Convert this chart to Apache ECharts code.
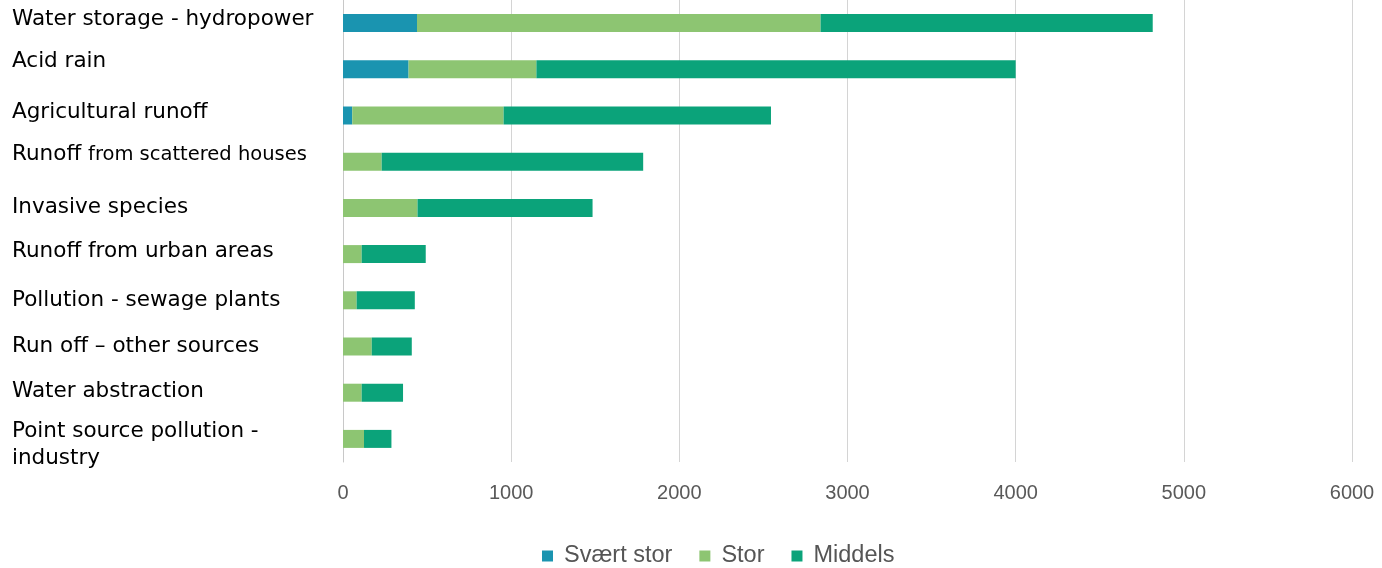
<!DOCTYPE html>
<html>
<head>
<meta charset="utf-8">
<script src="https://cdn.jsdelivr.net/npm/echarts@6/dist/echarts.min.js"></script>
<style>
html,body{margin:0;padding:0;background:#fff;}
#chart{width:1382px;height:568px;}
</style>
</head>
<body>
<div id="chart"></div>
<script>
const categories = [
  'Water storage - hydropower',
  'Acid rain',
  'Agricultural runoff',
  'Runoff from scattered houses',
  'Invasive species',
  'Runoff from urban areas',
  'Pollution - sewage plants',
  'Run off \u2013 other sources',
  'Water abstraction',
  'Point source pollution -\nindustry'
];
const seriesNames = ['Svært stor', 'Stor', 'Middels'];
const svaertStor = [440, 390, 55, 0, 0, 0, 0, 0, 0, 0];
const stor       = [2400, 760, 900, 230, 443, 111, 81, 171, 111, 125];
const middels    = [1975, 2850, 1590, 1555, 1041, 381, 346, 238, 246, 163];
const xTicks = [0, 1000, 2000, 3000, 4000, 5000, 6000];

// vertical nudge of each category label (px, negative = up) – styling only
const labelShift = [-4, -8, -3, -7, 0, -3, 0, 0, -1, 6];

const colors = ['#1a94b0', '#8dc572', '#0ba37a'];

const yData = categories.map((c, i) => {
  const d = labelShift[i];
  const pad = d < 0 ? [0, 0, -2 * d, 0] : [2 * d, 0, 0, 0];
  return {value: c, textStyle: {align: 'left', padding: pad}};
});

const chart = echarts.init(document.getElementById('chart'), null, {renderer: 'canvas'});
const mk = (name, data, color) => ({
  name, type: 'bar', stack: 'total', data, barWidth: 18,
  itemStyle: {color}, emphasis: {disabled: true}
});
chart.setOption({
  animation: false,
  grid: {left: 343, right: 30, top: 0, bottom: 106, containLabel: false, outerBoundsMode: 'none'},
  legend: {
    data: seriesNames, left: 542, top: 544, padding: 0, icon: 'rect', itemWidth: 11, itemHeight: 11, itemGap: 27,
    textStyle: {fontFamily: 'Liberation Sans', fontSize: 23.5, color: '#555555', padding: [0, 0, 0, 6]}
  },
  xAxis: {
    type: 'value', min: xTicks[0], max: xTicks[xTicks.length - 1], interval: 1000,
    axisLine: {show: false}, axisTick: {show: false},
    splitLine: {lineStyle: {color: '#d4d4d4', width: 1}},
    axisLabel: {
      margin: 21, fontFamily: 'Liberation Sans', fontSize: 20, color: '#595959', hideOverlap: false,
      formatter: function (v) { return String(v); }
    }
  },
  yAxis: {
    type: 'category', data: yData, inverse: true,
    axisLine: {show: true, lineStyle: {color: '#c8c8c8'}}, axisTick: {show: false},
    axisLabel: {
      align: 'left', margin: 331, interval: 0, hideOverlap: false,
      fontFamily: 'DejaVu Sans', fontSize: 21.5, color: '#000', lineHeight: 27,
      formatter: function (v) {
        if (v === 'Runoff from scattered houses') return '{a|Runoff} {b|from scattered houses}';
        return v;
      },
      rich: {
        a: {fontFamily: 'DejaVu Sans', fontSize: 21.5, color: '#000'},
        b: {fontFamily: 'DejaVu Sans', fontSize: 19.5, color: '#000'}
      }
    }
  },
  series: [
    mk(seriesNames[0], svaertStor, colors[0]),
    mk(seriesNames[1], stor, colors[1]),
    mk(seriesNames[2], middels, colors[2])
  ]
});
</script>
</body>
</html>
